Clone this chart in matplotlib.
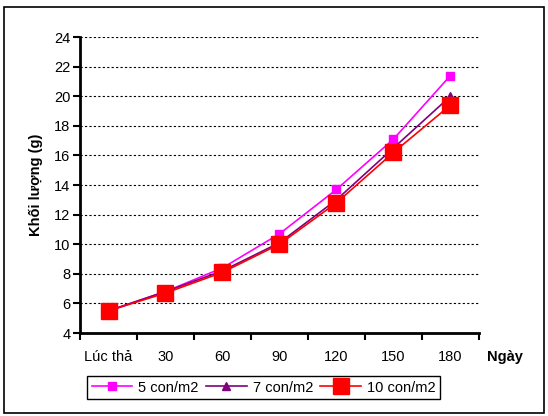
import matplotlib.pyplot as plt
from matplotlib.patches import Rectangle

plt.rcParams['font.family'] = ['Liberation Sans', 'DejaVu Sans']

days = ['Lúc thả', '30', '60', '90', '120', '150', '180']
d5 = [5.5, 6.8, 8.4, 10.7, 13.7, 17.1, 21.4]
d7 = [5.5, 6.8, 8.2, 10.1, 13.0, 16.5, 20.0]
d10 = [5.5, 6.7, 8.1, 10.0, 12.8, 16.2, 19.4]

fig = plt.figure(figsize=(5.48, 4.16), dpi=100)
ax = fig.add_axes([0.146, 0.1995, 0.728, 0.7115])

x = range(len(days))
ax.plot(x, d5, color='#FF00FF', marker='s', markersize=6, lw=1.2, label='5 con/m2')
ax.plot(x, d7, color='#800080', marker='^', markersize=6, lw=1.2, label='7 con/m2')
ax.plot(x, d10, color='#FF0000', marker='s', markersize=12, lw=1.2, label='10 con/m2')

ax.set_xlim(-0.5, len(days) - 0.5)
ax.set_ylim(4, 24)
ax.set_yticks(range(4, 25, 2))
ax.yaxis.grid(True, color='black', ls=(0, (2, 2)), lw=0.8)
ax.set_xticks([i - 0.5 for i in range(len(days) + 1)])
ax.set_xticklabels([])
ax.set_xticks(list(x), minor=True)
ax.set_xticklabels(days, minor=True)
ax.tick_params(axis='x', which='minor', length=0, pad=12, labelsize=10.5)
ax.tick_params(axis='x', which='major', length=5, width=1.5)
ax.tick_params(axis='y', length=5, width=1.5, labelsize=10.5, pad=2)

for s in ['top', 'right']:
    ax.spines[s].set_visible(False)
for s in ['left', 'bottom']:
    ax.spines[s].set_linewidth(2)

ax.set_ylabel('Khối lượng (g)', fontweight='bold', fontsize=10.5, labelpad=8)
fig.text(0.889, 0.143, 'Ngày', fontweight='bold', fontsize=10.5, va='center')

leg = fig.legend(loc='center', bbox_to_anchor=(0.481, 0.0685), ncol=3,
                 fancybox=False, edgecolor='black', fontsize=10.5,
                 handlelength=2.8, columnspacing=0.5, handletextpad=0.4,
                 borderpad=0.3, framealpha=1)
leg.get_frame().set_linewidth(1)

fig.patches.append(Rectangle((4 / 548, 3 / 416), 540 / 548, 406 / 416,
                             transform=fig.transFigure, fill=False,
                             edgecolor='black', lw=1.2))

fig.savefig('out.png', dpi=100)
